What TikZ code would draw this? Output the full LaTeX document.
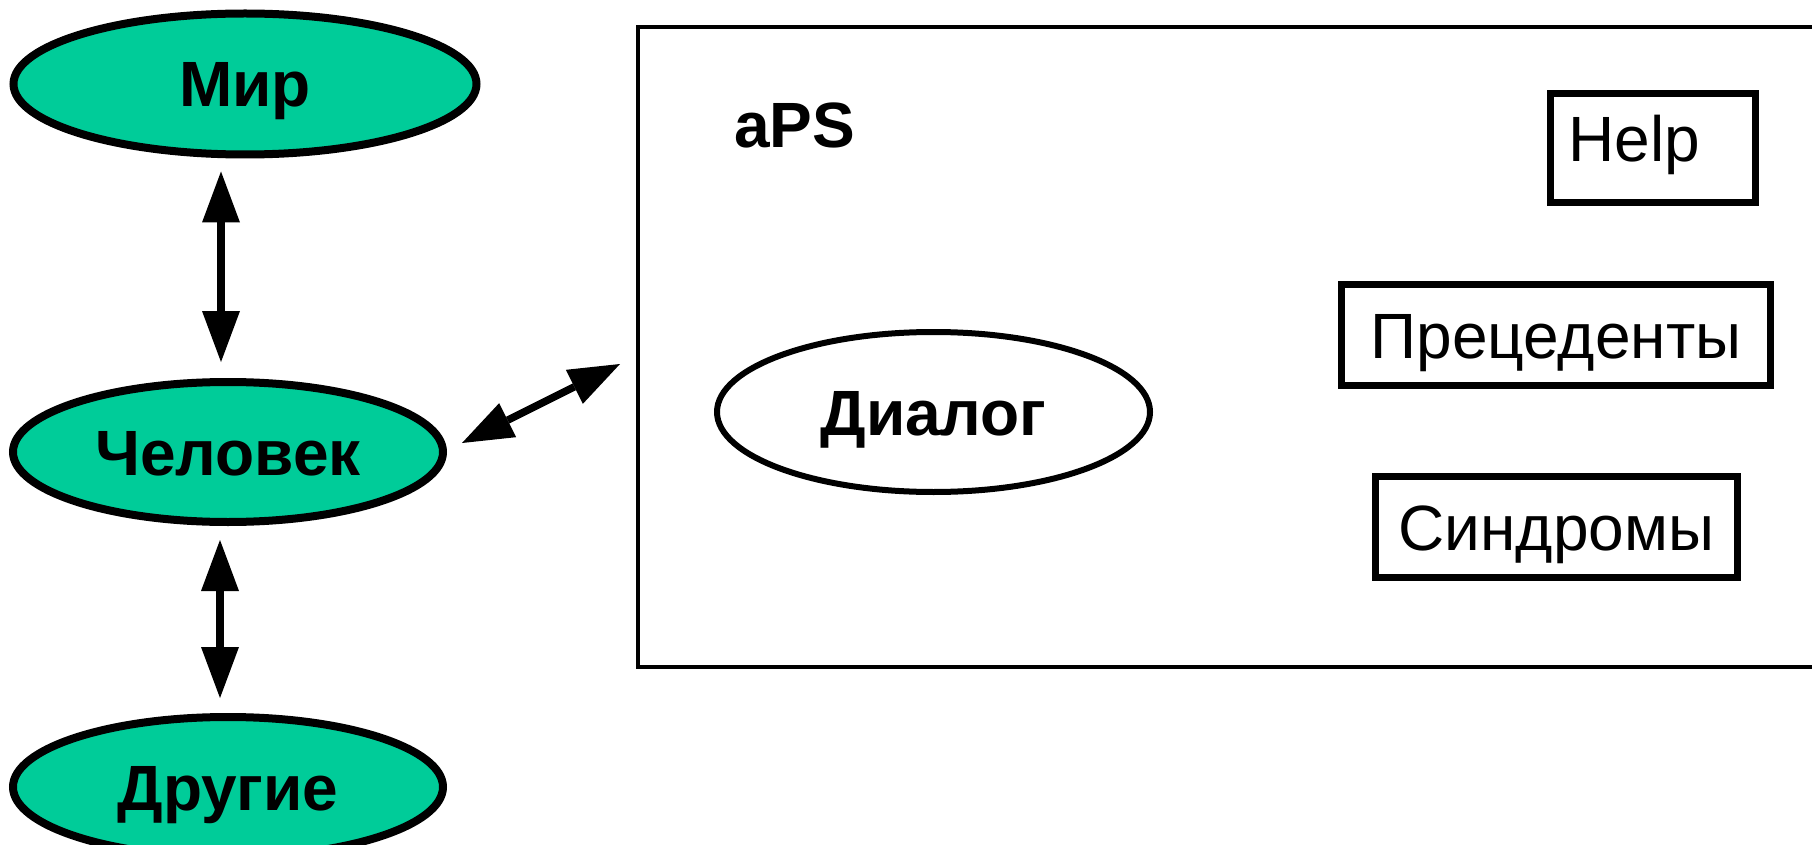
\documentclass[tikz,border=0pt]{standalone}
\usepackage{fontspec}
\setmainfont{Liberation Sans}
\usetikzlibrary{arrows.meta,shapes.geometric}
\definecolor{ngreen}{RGB}{0,204,153}
\begin{document}
\begin{tikzpicture}[x=1pt,y=-1pt,
  txtbase/.style={text depth=0pt, text height=46pt, inner sep=0pt},
  greenell/.style={ellipse, draw, line width=8pt, fill=ngreen, txtbase,
    font=\bfseries\fontsize{64}{76}\selectfont},
  dialogell/.style={ellipse, draw, line width=6pt, fill=white, txtbase,
    font=\bfseries\fontsize{64}{76}\selectfont},
  itembox/.style={rectangle, draw, line width=7pt, txtbase,
    font=\fontsize{64}{76}\selectfont},
  bigbox/.style={rectangle, draw, line width=4pt, inner sep=0pt},
  tip/.tip={Triangle[length=51pt,width=38pt,line width=0pt]},
  biarrow/.style={line width=7.5pt, tip-tip}
]
\useasboundingbox (0,0) rectangle (1812,845);
\clip (0,0) rectangle (1812,845);

% big rectangle (aPS)
\node[bigbox, minimum width=1202pt, minimum height=640pt] (aps) at (1239,347) {};
\node[anchor=base west, inner sep=0pt, font=\bfseries\fontsize{64}{76}\selectfont] (apslabel) at (734,148) {aPS};

% green ellipses
\node[greenell, minimum width=463pt, minimum height=141pt] (mir) at (245,84) {Мир};
\node[greenell, minimum width=430pt, minimum height=140pt] (chel) at (228,452) {Человек};
\node[greenell, minimum width=430pt, minimum height=140pt] (drug) at (228,787) {Другие};

% dialog ellipse
\node[dialogell, minimum width=433pt, minimum height=160pt] (dial) at (933.5,412) {Диалог};

% boxes
\node[itembox, text width=169pt, align=left, inner xsep=18pt, text depth=18pt, minimum height=109pt] (help) at (1653,148) {Help};
\node[itembox, minimum width=429pt, minimum height=101pt] (prec) at (1556,335) {Прецеденты};
\node[itembox, minimum width=362pt, minimum height=101pt] (synd) at (1556.5,527) {Синдромы};

% connectors
\draw[biarrow] ([xshift=-24pt,yshift=-13pt]mir.south) -- ([xshift=-7pt,yshift=16pt]chel.north);
\draw[biarrow] ([xshift=-8pt,yshift=-14pt]chel.south) -- ([xshift=-8pt,yshift=15pt]drug.north);
\draw[biarrow] ([xshift=15pt,yshift=9pt]chel.east) -- ([xshift=-16pt,yshift=-17pt]aps.west);
\end{tikzpicture}
\end{document}
